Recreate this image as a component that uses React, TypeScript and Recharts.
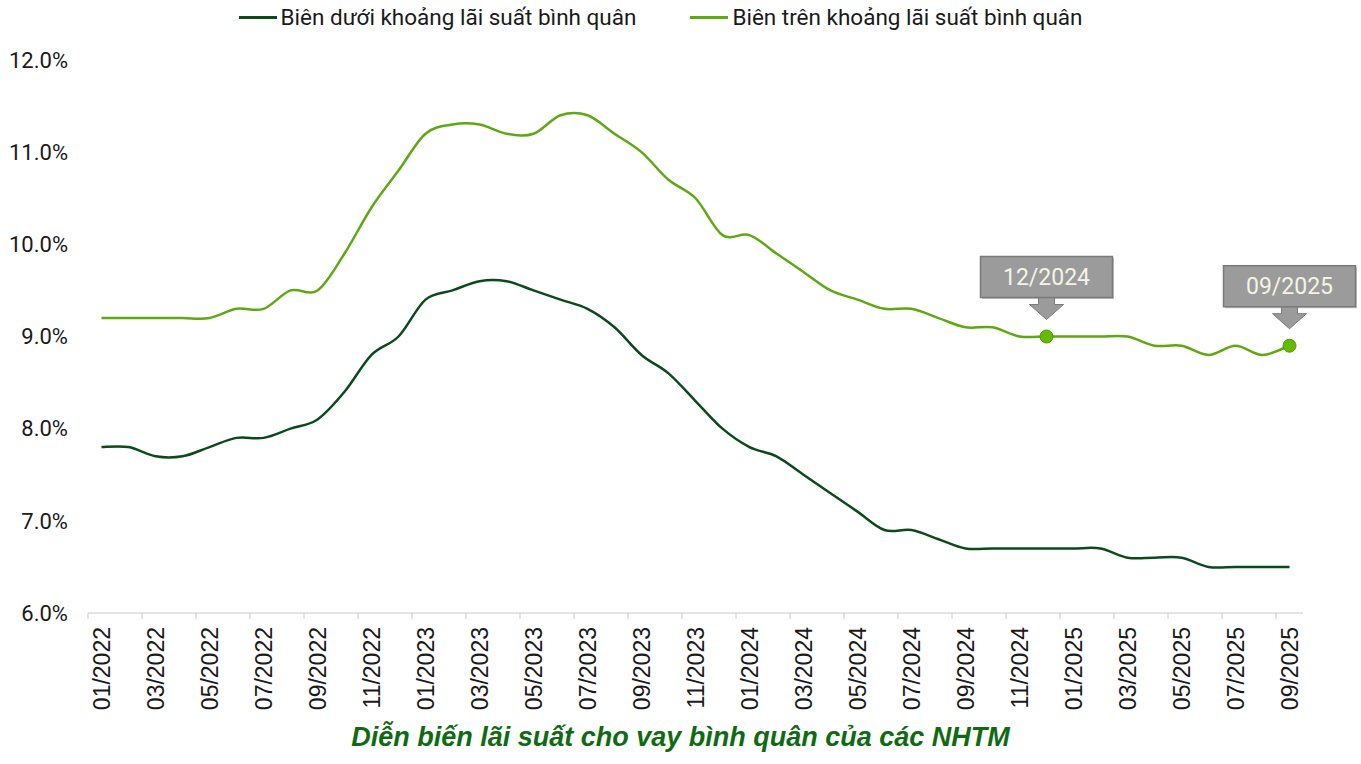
import { LineChart, Line, XAxis, YAxis, Legend } from "recharts";

// tháng 01/2022 – 09/2025
const months = [
  "01/2022", "02/2022", "03/2022", "04/2022", "05/2022", "06/2022", "07/2022", "08/2022", "09/2022", "10/2022", "11/2022", "12/2022",
  "01/2023", "02/2023", "03/2023", "04/2023", "05/2023", "06/2023", "07/2023", "08/2023", "09/2023", "10/2023", "11/2023", "12/2023",
  "01/2024", "02/2024", "03/2024", "04/2024", "05/2024", "06/2024", "07/2024", "08/2024", "09/2024", "10/2024", "11/2024", "12/2024",
  "01/2025", "02/2025", "03/2025", "04/2025", "05/2025", "06/2025", "07/2025", "08/2025", "09/2025",
];

const lowerBound = [
  7.8, 7.8, 7.7, 7.7, 7.8, 7.9, 7.9, 8.0, 8.1, 8.4, 8.8, 9.0,
  9.4, 9.5, 9.6, 9.6, 9.5, 9.4, 9.3, 9.1, 8.8, 8.6, 8.3, 8.0,
  7.8, 7.7, 7.5, 7.3, 7.1, 6.9, 6.9, 6.8, 6.7, 6.7, 6.7, 6.7,
  6.7, 6.7, 6.6, 6.6, 6.6, 6.5, 6.5, 6.5, 6.5,
];

const upperBound = [
  9.2, 9.2, 9.2, 9.2, 9.2, 9.3, 9.3, 9.5, 9.5, 9.9, 10.4, 10.8,
  11.2, 11.3, 11.3, 11.2, 11.2, 11.4, 11.4, 11.2, 11.0, 10.7, 10.5, 10.1,
  10.1, 9.9, 9.7, 9.5, 9.4, 9.3, 9.3, 9.2, 9.1, 9.1, 9.0, 9.0,
  9.0, 9.0, 9.0, 8.9, 8.9, 8.8, 8.9, 8.8, 8.9,
];

const callouts = ["12/2024", "09/2025"];
const yTicks = [6, 7, 8, 9, 10, 11, 12];

const LOWER_NAME = "Biên dưới khoảng lãi suất bình quân";
const UPPER_NAME = "Biên trên khoảng lãi suất bình quân";
const DARK = "#0b4a1b";
const LIGHT = "#5ea812";

const data = months.map((m, i) => ({ month: m, lower: lowerBound[i], upper: upperBound[i] }));

const BAND = 27;

// Excel-style smoothed line (Catmull-Rom through every point)
function smoothCurve(context: any) {
  let pts: number[][] = [];
  return {
    areaStart() {},
    areaEnd() {},
    lineStart() {
      pts = [];
    },
    point(x: number, y: number) {
      pts.push([x, y]);
    },
    lineEnd() {
      if (!pts.length) return;
      context.moveTo(pts[0][0], pts[0][1]);
      for (let i = 0; i < pts.length - 1; i++) {
        const p0 = pts[i - 1] || pts[i];
        const p1 = pts[i];
        const p2 = pts[i + 1];
        const p3 = pts[i + 2] || p2;
        const t = 1 / 6;
        context.bezierCurveTo(
          p1[0] + (p2[0] - p0[0]) * t, p1[1] + (p2[1] - p0[1]) * t,
          p2[0] - (p3[0] - p1[0]) * t, p2[1] - (p3[1] - p1[1]) * t,
          p2[0], p2[1]
        );
      }
    },
  };
}

function MonthTick(props: any) {
  const { x, y, payload } = props;
  return (
    <g>
      <line x1={x - BAND / 2} y1={y - 8} x2={x - BAND / 2} y2={y - 2} stroke="#c8c8c8" />
      <text
        x={0}
        y={0}
        transform={`translate(${x + 8},${y + 6}) rotate(-90)`}
        textAnchor="end"
        fontFamily="'Liberation Sans', Arial, sans-serif"
        fontSize={23}
        fill="#1a1a1a"
      >
        {payload.value}
      </text>
    </g>
  );
}

function CalloutDot(props: any) {
  const { cx, cy, payload } = props;
  if (!callouts.includes(payload.month)) return <g key={payload.month} />;
  const w = 132;
  const top = cy - 80;
  const bottom = cy - 39;
  const tip = cy - 17;
  return (
    <g key={payload.month}>
      <rect x={cx - w / 2 + 1.5} y={top + 1.5} width={w} height={bottom - top} fill="#c4c4c4" />
      <path
        d={`M${cx - 8},${bottom} L${cx + 8},${bottom} L${cx + 8},${bottom + 7} L${cx + 17},${bottom + 7} L${cx},${tip} L${cx - 17},${bottom + 7} L${cx - 8},${bottom + 7} Z`}
        fill="#9b9b9b"
        stroke="#7a7a7a"
        strokeWidth={1}
      />
      <rect x={cx - w / 2} y={top} width={w} height={bottom - top} fill="#9b9b9b" stroke="#7a7a7a" strokeWidth={1.5} />
      <text
        x={cx}
        y={(top + bottom) / 2 + 8}
        textAnchor="middle"
        fontFamily="Roboto, sans-serif"
        fontSize={23}
        fill="#f4f4e6"
      >
        {payload.month}
      </text>
      <circle cx={cx} cy={cy} r={6.5} fill="#66bb00" stroke="#4f9a08" strokeWidth={1} />
    </g>
  );
}

function TopLegend() {
  const items = [
    { name: LOWER_NAME, color: DARK },
    { name: UPPER_NAME, color: LIGHT },
  ];
  return (
    <div style={{ display: "flex", justifyContent: "center", gap: 54, paddingRight: 40, fontFamily: "Roboto, sans-serif", fontSize: 22.5, color: "#1a1a1a" }}>
      {items.map((it) => (
        <div key={it.name} style={{ display: "flex", alignItems: "center", gap: 4 }}>
          <span style={{ display: "inline-block", width: 38, height: 3, background: it.color }} />
          <span>{it.name}</span>
        </div>
      ))}
    </div>
  );
}

export default function App() {
  return (
    <div style={{ position: "absolute", left: 0, top: 0, width: 1361, height: 764, background: "#fff" }}>
      <LineChart width={1361} height={764} data={data} margin={{ top: 60, right: 58, bottom: 31, left: 0 }}>
        <Legend verticalAlign="middle" content={<TopLegend />} wrapperStyle={{ top: 4, left: 0, width: 1361 }} />
        <YAxis
          width={88}
          domain={[6, 12]}
          ticks={yTicks}
          axisLine={false}
          tickLine={false}
          tickMargin={14}
          tickFormatter={(v: number) => `${v.toFixed(1)}%`}
          tick={{ fontFamily: "Roboto, sans-serif", fontSize: 22, fill: "#1a1a1a" }}
        />
        <XAxis
          dataKey="month"
          scale="band"
          interval={1}
          height={120}
          axisLine={{ stroke: "#c8c8c8" }}
          tickLine={false}
          tick={<MonthTick />}
        />
        <Line
          name={LOWER_NAME}
          dataKey="lower"
          type={smoothCurve as any}
          stroke={DARK}
          strokeWidth={2.5}
          dot={false}
          isAnimationActive={false}
        />
        <Line
          name={UPPER_NAME}
          dataKey="upper"
          type={smoothCurve as any}
          stroke={LIGHT}
          strokeWidth={2.5}
          dot={<CalloutDot />}
          activeDot={false}
          isAnimationActive={false}
        />
      </LineChart>
      <div
        style={{
          position: "absolute",
          left: 0,
          top: 722,
          width: 1361,
          textAlign: "center",
          fontFamily: "'Liberation Sans', Arial, sans-serif",
          fontWeight: "bold",
          fontStyle: "italic",
          fontSize: 27,
          color: "#0f6b12",
        }}
      >
        Diễn biến lãi suất cho vay bình quân của các NHTM
      </div>
    </div>
  );
}
